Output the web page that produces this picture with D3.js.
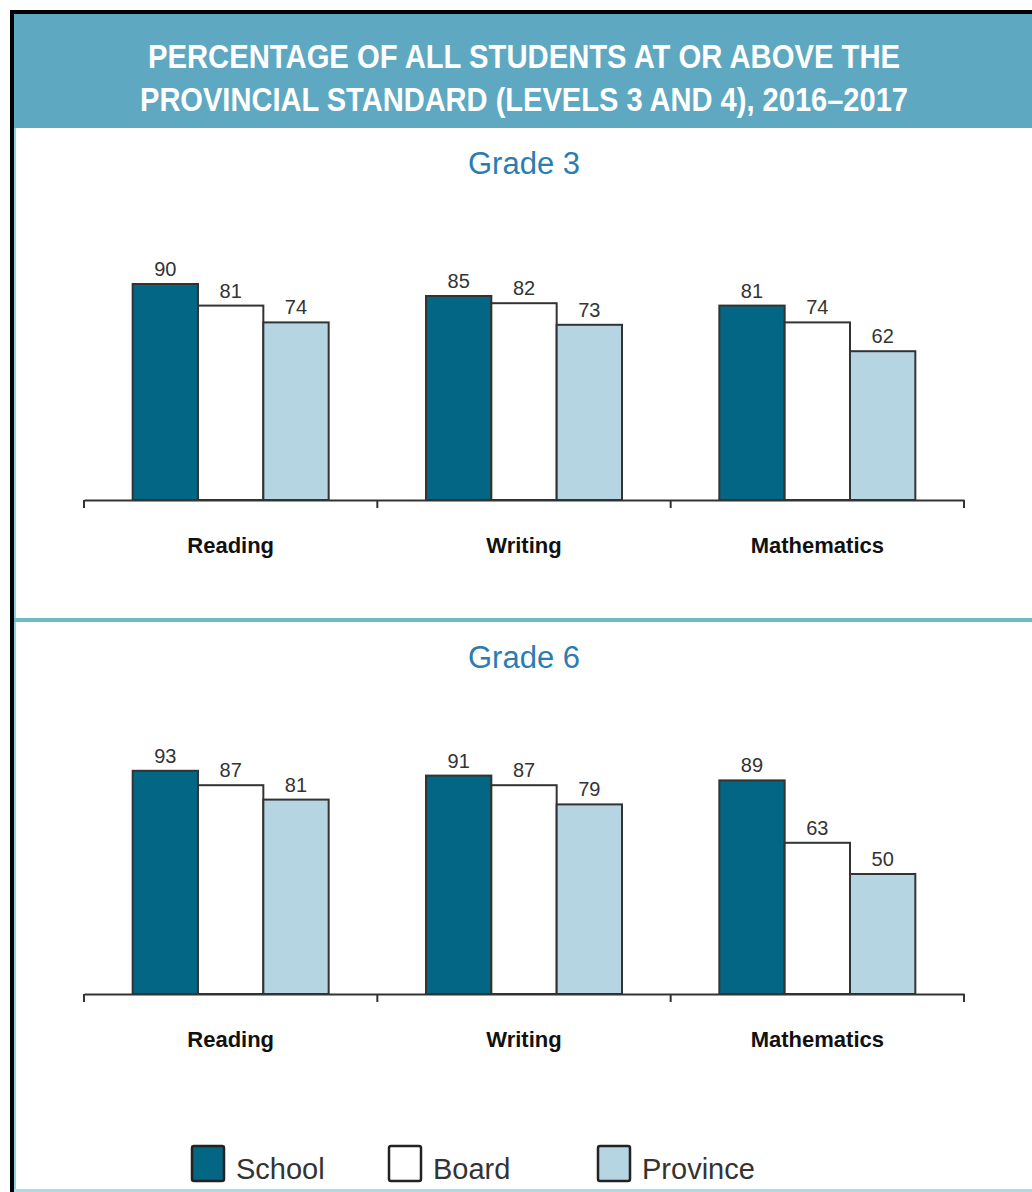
<!DOCTYPE html>
<html>
<head>
<meta charset="utf-8">
<script src="https://cdn.jsdelivr.net/npm/d3@7"></script>
<style>
  html, body { margin: 0; padding: 0; background: #fff; }
  svg { display: block; }
</style>
</head>
<body>
<div id="chart"></div>
<script>
// chart data
var titleLines = ['PERCENTAGE OF ALL STUDENTS AT OR ABOVE THE', 'PROVINCIAL STANDARD (LEVELS 3 AND 4), 2016\u20132017'];
var subjects = ['Reading', 'Writing', 'Mathematics'];
var seriesNames = ['School', 'Board', 'Province'];
var grades = ['Grade 3', 'Grade 6'];
var grade3 = [[90, 81, 74], [85, 82, 73], [81, 74, 62]];
var grade6 = [[93, 87, 81], [91, 87, 79], [89, 63, 50]];

(function () {
	var width = 1032;
	var height = 1192;
	var colors = {School: '#036685', Board: '#ffffff', Province: '#b5d5e2'};
	var strokeColor = '#333';
	var fontSans = '"Liberation Sans", Arial, Helvetica, sans-serif';
	var titleLengths = [752, 768];

	var svg = d3.select('#chart').append('svg')
		.attr('width', width).attr('height', height);

	// frame
	svg.append('rect').attr('x', 0).attr('y', 0).attr('width', width).attr('height', height).attr('fill', '#fff');
	svg.append('rect').attr('x', 10).attr('y', 10).attr('width', width - 10).attr('height', 4).attr('fill', '#000');
	svg.append('rect').attr('x', 14).attr('y', 14).attr('width', width - 14).attr('height', 114).attr('fill', '#5ea9c1');
	svg.append('rect').attr('x', 10).attr('y', 10).attr('width', 4).attr('height', height - 10).attr('fill', '#000');
	svg.append('rect').attr('x', 14).attr('y', 128).attr('width', 2).attr('height', height - 128).attr('fill', '#8fd0e6');
	svg.append('rect').attr('x', 14).attr('y', height - 3).attr('width', width - 14).attr('height', 3).attr('fill', '#a8dde6');

	// title (condensed look via textLength)
	svg.selectAll('.title').data(titleLines).enter().append('text')
		.attr('class', 'title')
		.attr('x', 524)
		.attr('y', (d, i) => 68 + i * 43)
		.attr('text-anchor', 'middle')
		.attr('font-family', fontSans)
		.attr('font-weight', 'bold')
		.attr('font-size', 34)
		.attr('textLength', (d, i) => titleLengths[i])
		.attr('lengthAdjust', 'spacingAndGlyphs')
		.attr('fill', '#fff')
		.text(d => d);

	// separator between the two grades
	svg.append('rect').attr('x', 14).attr('y', 618).attr('width', width - 14).attr('height', 4).attr('fill', '#6cbcbc');

	var x0 = d3.scaleBand().domain(subjects).range([84, 964]).padding(0);
	var x1 = d3.scaleBand().domain(seriesNames).range([0, 196]);
	var y = d3.scaleLinear().domain([0, 100]).range([0, 240]);

	var panels = [
		{name: grades[0], data: grade3, titleY: 174, base: 500},
		{name: grades[1], data: grade6, titleY: 668, base: 994}
	];

	panels.forEach(function (p) {
		var g = svg.append('g');

		g.append('text')
			.attr('x', 524).attr('y', p.titleY)
			.attr('text-anchor', 'middle')
			.attr('font-family', fontSans)
			.attr('font-size', 31)
			.attr('fill', '#2b7db0')
			.text(p.name);

		var groups = g.selectAll('.subject')
			.data(subjects).enter().append('g')
			.attr('class', 'subject')
			.attr('transform', d => 'translate(' + (x0(d) + (x0.bandwidth() - 196) / 2) + ',0)');

		groups.selectAll('rect')
			.data((d, i) => p.data[i].map((v, j) => ({s: seriesNames[j], v: v})))
			.enter().append('rect')
			.attr('x', d => x1(d.s))
			.attr('y', d => p.base - y(d.v))
			.attr('width', x1.bandwidth())
			.attr('height', d => y(d.v))
			.attr('fill', d => colors[d.s])
			.attr('stroke', strokeColor)
			.attr('stroke-width', 2);

		groups.selectAll('.val')
			.data((d, i) => p.data[i].map((v, j) => ({s: seriesNames[j], v: v})))
			.enter().append('text')
			.attr('class', 'val')
			.attr('x', d => x1(d.s) + x1.bandwidth() / 2)
			.attr('y', d => p.base - y(d.v) - 8)
			.attr('text-anchor', 'middle')
			.attr('font-family', fontSans)
			.attr('font-size', 20)
			.attr('fill', '#333')
			.text(d => d.v);

		// axis
		var axis = d3.axisBottom(x0).tickSize(0).tickPadding(37).tickSizeOuter(0);
		var ax = g.append('g').attr('transform', 'translate(0,' + p.base + ')').call(axis);
		ax.select('.domain').attr('stroke', strokeColor).attr('stroke-width', 2);
		ax.selectAll('.tick text')
			.attr('font-family', fontSans)
			.attr('font-weight', 'bold')
			.attr('font-size', 22)
			.attr('fill', '#111');
		ax.selectAll('.sep')
			.data([84].concat(subjects.map(d => x0(d) + x0.bandwidth())))
			.enter().append('line')
			.attr('class', 'sep')
			.attr('x1', d => d).attr('x2', d => d)
			.attr('y1', 0).attr('y2', 8)
			.attr('stroke', strokeColor).attr('stroke-width', 2);
	});

	// legend
	var legendX = [192, 389, 598];
	var legend = svg.selectAll('.legend')
		.data(seriesNames).enter().append('g')
		.attr('class', 'legend')
		.attr('transform', (d, i) => 'translate(' + legendX[i] + ',1146)');
	legend.append('rect')
		.attr('width', 32).attr('height', 35).attr('rx', 2)
		.attr('fill', d => colors[d])
		.attr('stroke', '#222').attr('stroke-width', 2.5);
	legend.append('text')
		.attr('x', 44).attr('y', 33)
		.attr('font-family', fontSans)
		.attr('font-size', 29)
		.attr('fill', '#333')
		.text(d => d);
})();
</script>
</body>
</html>
